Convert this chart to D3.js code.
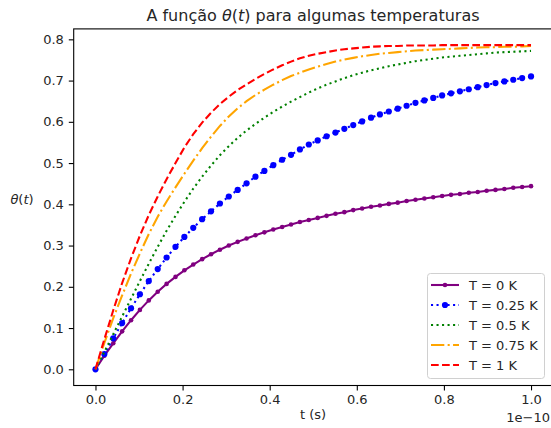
<!DOCTYPE html>
<html>
<head>
<meta charset="utf-8">
<script src="https://cdn.jsdelivr.net/npm/d3@7"></script>
<style>
  body { margin: 0; background: #fff; }
  svg { font-family: "DejaVu Sans", sans-serif; }
</style>
</head>
<body>
<div id="chart-area"></div>
<script>
// time in units of 1e-10 s
var times = [0, 0.0204, 0.0408, 0.0612, 0.0816, 0.1020, 0.1224, 0.1429, 0.1633, 0.1837,
    0.2041, 0.2245, 0.2449, 0.2653, 0.2857, 0.3061, 0.3265, 0.3469, 0.3673, 0.3878,
    0.4082, 0.4286, 0.4490, 0.4694, 0.4898, 0.5102, 0.5306, 0.5510, 0.5714, 0.5918,
    0.6122, 0.6327, 0.6531, 0.6735, 0.6939, 0.7143, 0.7347, 0.7551, 0.7755, 0.7959,
    0.8163, 0.8367, 0.8571, 0.8776, 0.8980, 0.9184, 0.9388, 0.9592, 0.9796, 1.0];

var theta0 = [0, .033, .063, .092, .119, .144, .167, .188, .207, .224,
    .240, .254, .267, .279, .290, .300, .309, .317, .325, .332,
    .339, .345, .351, .357, .362, .367, .372, .377, .381, .386,
    .390, .394, .397, .401, .404, .408, .411, .414, .417, .420,
    .423, .425, .428, .430, .433, .435, .437, .440, .442, .444];

var theta025 = [0, .037, .075, .112, .148, .182, .214, .243, .271, .297,
    .321, .343, .364, .383, .402, .419, .435, .451, .467, .481,
    .495, .508, .520, .533, .545, .555, .565, .574, .583, .592,
    .601, .610, .618, .625, .632, .639, .646, .652, .658, .664,
    .669, .674, .679, .684, .689, .694, .698, .702, .706, .710];

var theta05 = [0, .042, .085, .128, .171, .214, .256, .297, .336, .372,
    .406, .438, .467, .494, .519, .541, .561, .579, .595, .610,
    .624, .637, .649, .660, .671, .681, .690, .698, .706, .713,
    .719, .725, .730, .735, .739, .743, .747, .750, .753, .756,
    .758, .760, .762, .764, .766, .768, .769, .770, .771, .772];

var theta075 = [0, .064, .124, .179, .232, .281, .328, .370, .407, .441,
    .474, .506, .536, .564, .590, .613, .633, .650, .665, .678,
    .690, .701, .711, .719, .727, .734, .740, .746, .751, .755,
    .759, .762, .765, .767, .769, .771, .773, .774, .775, .776,
    .777, .778, .779, .780, .781, .781, .782, .782, .783, .784];

var theta1 = [0, .073, .143, .209, .269, .324, .374, .419, .461, .500,
    .538, .570, .598, .622, .643, .661, .677, .691, .704, .716,
    .727, .737, .746, .754, .760, .765, .769, .773, .776, .778,
    .780, .782, .783, .784, .784, .785, .785, .785, .785, .786,
    .786, .786, .786, .786, .786, .786, .786, .786, .786, .786];

var labels = ["T = 0 K", "T = 0.25 K", "T = 0.5 K", "T = 0.75 K", "T = 1 K"];
var xTicks = [0, 0.2, 0.4, 0.6, 0.8, 1.0];
var yTicks = [0, 0.1, 0.2, 0.3, 0.4, 0.5, 0.6, 0.7, 0.8];

var lw = 2.08;
var series = [
    { values: theta0,   color: "purple", dash: null,                 marker: 2.3 },
    { values: theta025, color: "blue",   dash: [lw, lw * 1.65],      marker: 3.1 },
    { values: theta05,  color: "green",  dash: [lw, lw * 1.65],      marker: 0 },
    { values: theta075, color: "orange", dash: [lw * 6.4, lw * 1.6, lw, lw * 1.6], marker: 0 },
    { values: theta1,   color: "red",    dash: [lw * 3.7, lw * 1.6], marker: 0 }
];

var W = 551, H = 428;
var svg = d3.select("#chart-area")
    .append("svg")
    .attr("width", W)
    .attr("height", H);

// Scales (axes box runs a bit past the right edge, as in the reference)
var x = d3.scaleLinear().domain([-0.05, 1.05]).range([73.7, 552.8]);
var y = d3.scaleLinear().domain([-0.0393, 0.8253]).range([385.5, 28.9]);

var tickFont = "13px";

// X-axis
var xAxis = svg.append("g")
    .attr("transform", "translate(0," + y.range()[0] + ")")
    .call(d3.axisBottom(x).tickValues(xTicks).tickFormat(d3.format(".1f"))
        .tickSizeOuter(0).tickSize(4.9).tickPadding(4.2));
xAxis.select(".domain").remove();
xAxis.selectAll("line").attr("stroke", "#000").attr("stroke-width", 1.1);
xAxis.selectAll("text").attr("font-size", tickFont).attr("fill", "#262626")
    .attr("font-family", "DejaVu Sans");

// Y-axis
var yAxis = svg.append("g")
    .attr("transform", "translate(" + x.range()[0] + ",0)")
    .call(d3.axisLeft(y).tickValues(yTicks).tickFormat(d3.format(".1f"))
        .tickSizeOuter(0).tickSize(4.9).tickPadding(4.9));
yAxis.select(".domain").remove();
yAxis.selectAll("line").attr("stroke", "#000").attr("stroke-width", 1.1);
yAxis.selectAll("text").attr("font-size", tickFont).attr("fill", "#262626")
    .attr("font-family", "DejaVu Sans");

// Lines
var line = d3.line()
    .x(function(d, i){ return x(times[i]); })
    .y(function(d){ return y(d); });

series.forEach(function(s){
    svg.append("path")
        .attr("d", line(s.values))
        .attr("fill", "none")
        .attr("stroke", s.color)
        .attr("stroke-width", lw)
        .attr("stroke-dasharray", s.dash ? s.dash.join(",") : null);
    if (s.marker > 0) {
        svg.append("g").selectAll("circle")
            .data(s.values)
            .enter().append("circle")
            .attr("cx", function(d, i){ return x(times[i]); })
            .attr("cy", function(d){ return y(d); })
            .attr("r", s.marker)
            .attr("fill", s.color);
    }
});

// Spines
svg.append("rect")
    .attr("x", x.range()[0])
    .attr("y", y.range()[1])
    .attr("width", x.range()[1] - x.range()[0])
    .attr("height", y.range()[0] - y.range()[1])
    .attr("fill", "none")
    .attr("stroke", "#000")
    .attr("stroke-width", 1.1);

// Title
var title = svg.append("text")
    .attr("x", 313)
    .attr("y", 21)
    .attr("text-anchor", "middle")
    .attr("font-size", "16px")
    .attr("fill", "#262626");
title.append("tspan").text("A função ");
title.append("tspan").attr("font-style", "italic").text("θ");
title.append("tspan").text("(");
title.append("tspan").attr("font-style", "italic").text("t");
title.append("tspan").text(") para algumas temperaturas");

// Labels
var yLabel = svg.append("text")
    .attr("x", 22)
    .attr("y", 204)
    .attr("text-anchor", "middle")
    .attr("font-size", "13px")
    .attr("fill", "#262626");
yLabel.append("tspan").attr("font-style", "italic").text("θ");
yLabel.append("tspan").text("(");
yLabel.append("tspan").attr("font-style", "italic").text("t");
yLabel.append("tspan").text(")");

svg.append("text")
    .attr("x", 313)
    .attr("y", 419)
    .attr("text-anchor", "middle")
    .attr("font-size", "13px")
    .attr("fill", "#262626")
    .text("t (s)");

svg.append("text")
    .attr("x", 550)
    .attr("y", 422)
    .attr("text-anchor", "end")
    .attr("font-size", "13px")
    .attr("fill", "#262626")
    .text("1e\u221210");

// Legend
var legend = svg.append("g");
legend.append("rect")
    .attr("x", 427.5)
    .attr("y", 273.5)
    .attr("width", 117)
    .attr("height", 105)
    .attr("rx", 3)
    .attr("fill", "#fff")
    .attr("fill-opacity", 0.8)
    .attr("stroke", "#d0d0d0")
    .attr("stroke-width", 1);

series.forEach(function(s, i){
    var ly = 285 + 20 * i;
    legend.append("line")
        .attr("x1", 431).attr("x2", 459)
        .attr("y1", ly).attr("y2", ly)
        .attr("stroke", s.color)
        .attr("stroke-width", lw)
        .attr("stroke-dasharray", s.dash ? s.dash.join(",") : null);
    if (s.marker > 0) {
        legend.append("circle")
            .attr("cx", 445).attr("cy", ly)
            .attr("r", s.marker)
            .attr("fill", s.color);
    }
    legend.append("text")
        .attr("x", 469)
        .attr("y", ly)
        .attr("dy", "0.36em")
        .attr("font-size", "13px")
        .attr("fill", "#262626")
        .text(labels[i]);
});
</script>
</body>
</html>
